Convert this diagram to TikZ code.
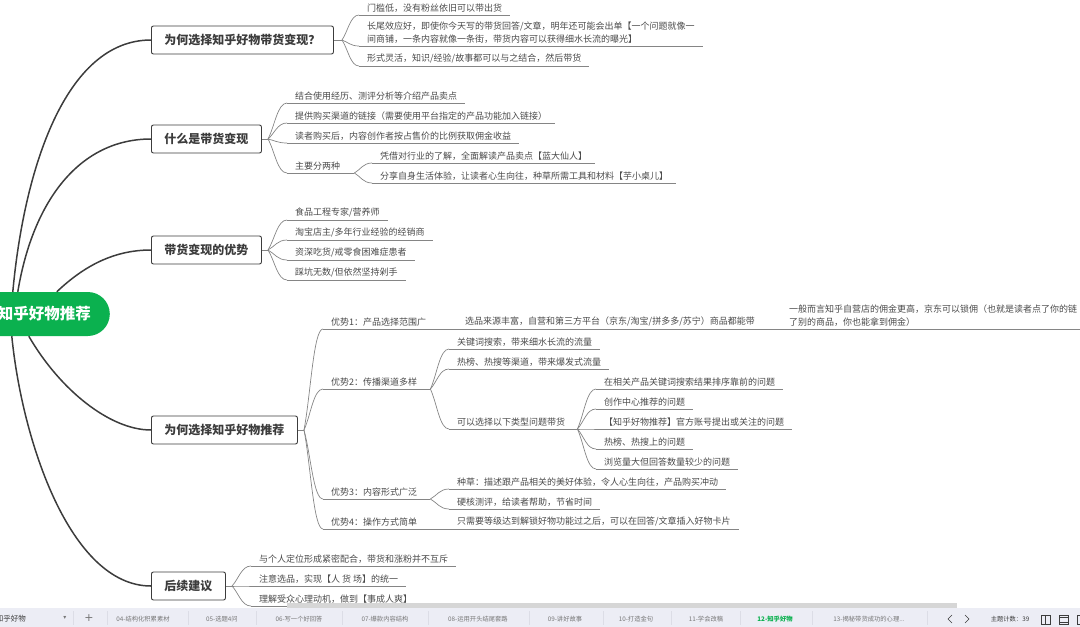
\documentclass[tikz,border=0pt]{standalone}
\usepackage{fontspec}
\setmainfont{Noto Sans CJK SC}
\newfontfamily\symbfont{DejaVu Sans}
\usetikzlibrary{calc}
\definecolor{rootgreen}{HTML}{0BB14F}
\definecolor{inkdark}{HTML}{3C3C3C}
\definecolor{inkleaf}{HTML}{4A4A4A}
\definecolor{linegray}{HTML}{858585}
\definecolor{tabbar}{HTML}{ECEDF5}
\definecolor{tabline}{HTML}{DCDDE6}
\definecolor{tabtext}{HTML}{777777}
\tikzset{
    rootnode/.style={fill=rootgreen, text=white, rounded corners=22pt, anchor=east, text width=172pt, align=right,
        inner xsep=19pt, minimum height=44pt, font=\fontsize{15.5}{18}\selectfont\bfseries},
    topicnode/.style={draw=inkdark, fill=white, line width=0.9pt, rounded corners=2pt, anchor=west, inner xsep=13pt,
        minimum height=28pt, text=inkdark, font=\fontsize{12}{14}\selectfont\bfseries},
    leafnode/.style={anchor=south west, align=left, inner xsep=8pt, inner ysep=2.5pt, text=inkleaf,
        font=\fontsize{9}{12.5}\selectfont,
        append after command={(\tikzlastnode.south west) edge[twigline] (\tikzlastnode.south east)}},
    twigline/.style={draw=linegray, line width=0.7pt},
    bough/.style={draw=inkdark, line width=1.5pt},
    twig/.style={twigline, to path={.. controls ($(\tikztostart)!.35!(\tikztotarget)$) and ($(\tikztotarget)!.5!(\tikztostart|-\tikztotarget)$) .. (\tikztotarget)}},
    tablabel/.style={text=tabtext, inner sep=0pt, font=\fontsize{6.3}{8}\selectfont},
    tabrule/.style={draw=tabline, line width=0.6pt}
}

\begin{document}
\begin{tikzpicture}[x=1pt, y=-1pt]
    \useasboundingbox (0,0) rectangle (1080,627);

    % main topics
    \node[rootnode] (root) at (110,314) {知乎好物推荐};
    \node[topicnode] (t1) at (151,40) {为何选择知乎好物带货变现^^^^ff1f};
    \node[topicnode] (t2) at (151,139) {什么是带货变现};
    \node[topicnode] (t3) at (151,250) {带货变现的优势};
    \node[topicnode] (t4) at (151,430) {为何选择知乎好物推荐};
    \node[topicnode] (t5) at (151,586) {后续建议};

    \draw[bough] ([xshift=8pt]root.north) .. controls (24,170) and (65,40) .. (t1.west);
    \draw[bough] ([xshift=13pt]root.north) .. controls (33,200) and (80,139) .. (t2.west);
    \draw[bough] ([xshift=52pt]root.north) .. controls (85,265) and (115,250) .. (t3.west);
    \draw[bough] ([xshift=24pt]root.south) .. controls (60,390) and (110,430) .. (t4.west);
    \draw[bough] ([xshift=7pt]root.south) .. controls (22,440) and (70,586) .. (t5.west);

    % first topic
    \coordinate (f1) at (342,40);
    \node[leafnode] (a1) at (359,15) {门槛低^^^^ff0c没有粉丝依旧可以带出货};
    \node[leafnode] (a2) at (359,46) {长尾效应好^^^^ff0c即使你今天写的带货回答/文章^^^^ff0c明年还可能会出单【一个问题就像一\\间商铺^^^^ff0c一条内容就像一条街^^^^ff0c带货内容可以获得细水长流的曝光】};
    \node[leafnode] (a3) at (359,66) {形式灵活^^^^ff0c知识/经验/故事都可以与之结合^^^^ff0c然后带货};
    \draw[twigline] (t1.east) -- (f1);
    \foreach \n in {a1,a2,a3}
        \draw[twig] (f1) to (\n.south west);

    % second topic
    \coordinate (f2) at (268,139);
    \node[leafnode] (b1) at (287,103) {结合使用经历、测评分析等介绍产品卖点};
    \node[leafnode] (b2) at (287,123) {提供购买渠道的链接^^^^ff08需要使用平台指定的产品功能加入链接^^^^ff09};
    \node[leafnode] (b3) at (287,143) {读者购买后^^^^ff0c内容创作者按占售价的比例获取佣金收益};
    \node[leafnode, text width=51pt] (b4) at (287,173) {主要分两种};
    \node[leafnode] (b5) at (372,163) {凭借对行业的了解^^^^ff0c全面解读产品卖点【蓝大仙人】};
    \node[leafnode] (b6) at (372,183) {分享自身生活体验^^^^ff0c让读者心生向往^^^^ff0c种草所需工具和材料【芋小桌儿】};
    \draw[twigline] (t2.east) -- (f2);
    \foreach \n in {b1,b2,b3,b4}
        \draw[twig] (f2) to (\n.south west);
    \foreach \n in {b5,b6}
        \draw[twig] (b4.south east) to (\n.south west);

    % third topic
    \coordinate (f3) at (268,250);
    \node[leafnode] (c1) at (287,220) {食品工程专家/营养师};
    \node[leafnode] (c2) at (287,240) {淘宝店主/多年行业经验的经销商};
    \node[leafnode] (c3) at (287,260) {资深吃货/戒零食困难症患者};
    \node[leafnode] (c4) at (287,280) {踩坑无数/但依然坚持剁手};
    \draw[twigline] (t3.east) -- (f3);
    \foreach \n in {c1,c2,c3,c4}
        \draw[twig] (f3) to (\n.south west);

    % fourth topic
    \coordinate (f4) at (304,430);
    \node[leafnode, text width=118pt] (d1) at (323,329) {优势1^^^^ff1a产品选择范围广};
    \node[leafnode] (d2) at (457,329) {选品来源丰富^^^^ff0c自营和第三方平台^^^^ff08京东/淘宝/拼多多/苏宁^^^^ff09商品都能带};
    \node[leafnode, text width=300pt] (d3) at (781,329) {一般而言知乎自营店的佣金更高^^^^ff0c京东可以锁佣^^^^ff08也就是读者点了你的链\\了别的商品^^^^ff0c你也能拿到佣金^^^^ff09};
    \node[leafnode, text width=91pt] (e1) at (323,389) {优势2^^^^ff1a传播渠道多样};
    \node[leafnode] (e2) at (449,349) {关键词搜索^^^^ff0c带来细水长流的流量};
    \node[leafnode] (e3) at (449,369) {热榜、热搜等渠道^^^^ff0c带来爆发式流量};
    \node[leafnode, text width=112pt] (e4) at (449,429) {可以选择以下类型问题带货};
    \node[leafnode] (e5) at (596,389) {在相关产品关键词搜索结果排序靠前的问题};
    \node[leafnode] (e6) at (596,409) {创作中心推荐的问题};
    \node[leafnode] (e7) at (596,429) {【知乎好物推荐】官方账号提出或关注的问题};
    \node[leafnode] (e8) at (596,449) {热榜、热搜上的问题};
    \node[leafnode] (e9) at (596,469) {浏览量大但回答数量较少的问题};
    \node[leafnode, text width=91pt] (g1) at (323,499) {优势3^^^^ff1a内容形式广泛};
    \node[leafnode] (g2) at (449,489) {种草^^^^ff1a描述跟产品相关的美好体验^^^^ff0c令人心生向往^^^^ff0c产品购买冲动};
    \node[leafnode] (g3) at (449,509) {硬核测评^^^^ff0c给读者帮助^^^^ff0c节省时间};
    \node[leafnode, text width=110pt] (h1) at (323,529) {优势4^^^^ff1a操作方式简单};
    \node[leafnode] (h2) at (449,529) {只需要等级达到解锁好物功能过之后^^^^ff0c可以在回答/文章插入好物卡片};
    \draw[twigline] (t4.east) -- (f4);
    \foreach \n in {d1,e1,g1,h1}
        \draw[twig] (f4) to (\n.south west);
    \draw[twigline] (d2.south east) -- (d3.south west);
    \foreach \n in {e2,e3,e4}
        \draw[twig] (e1.south east) to (\n.south west);
    \foreach \n in {e5,e6,e7,e8,e9}
        \draw[twig] (e4.south east) to (\n.south west);
    \foreach \n in {g2,g3}
        \draw[twig] (g1.south east) to (\n.south west);

    % fifth topic
    \coordinate (f5) at (232,586);
    \node[leafnode] (k1) at (251,566) {与个人定位形成紧密配合^^^^ff0c带货和涨粉并不互斥};
    \node[leafnode] (k2) at (251,586) {注意选品^^^^ff0c实现【人 货 场】的统一};
    \node[leafnode] (k3) at (251,606) {理解受众心理动机^^^^ff0c做到【事成人爽】};
    \draw[twigline] (t5.east) -- (f5);
    \foreach \n in {k1,k2,k3}
        \draw[twig] (f5) to (\n.south west);

    % tab bar
    \fill[tabbar] (0,608) rectangle (1080,627);
    \fill[black!16] (287,603) rectangle (957,608);
    \node[tablabel, text=inkdark, font=\fontsize{7.5}{9}\selectfont, anchor=east] (tab0) at (26,619) {知乎好物};
    \node[tablabel, font=\symbfont\fontsize{6}{8}\selectfont] (tabdown) at (65,618) {▾};
    \node[tablabel, font=\symbfont\fontsize{11}{12}\selectfont] (tabplus) at (89,618.5) {+};
    \node[tablabel] (tab4) at (143,619) {04-结构化积累素材};
    \node[tablabel] (tab5) at (222,619) {05-选题4问};
    \node[tablabel] (tab6) at (299,619) {06-写一个好回答};
    \node[tablabel] (tab7) at (385,619) {07-爆款内容结构};
    \node[tablabel] (tab8) at (478,619) {08-运用开头结尾套路};
    \node[tablabel] (tab9) at (565,619) {09-讲好故事};
    \node[tablabel] (tab10) at (636,619) {10-打造金句};
    \node[tablabel] (tab11) at (706,619) {11-学会改稿};
    \node[tablabel, text=rootgreen, font=\fontsize{6.3}{8}\selectfont\bfseries] (tab12) at (775,619) {12-知乎好物};
    \node[tablabel] (tab13) at (869,619) {13-揭秘带货成功的心理...};
    \node[tablabel, text=inkdark] (tabcount) at (1010,619) {主题计数^^^^ff1a39};
    \foreach \x in {73,107,188,256,342,428,529,603,671,740,812,927}
        \draw[tabrule] (\x,611) -- (\x,625);
    \draw[inkdark, line width=0.6pt] (952,615) -- (948,619) -- (952,623);
    \draw[inkdark, line width=0.6pt] (965,615) -- (969,619) -- (965,623);
    \draw[inkdark, line width=0.5pt] (1041,615) rectangle (1050,624) (1045.5,615) -- (1045.5,624);
    \draw[inkdark, line width=0.5pt] (1059,615) rectangle (1068,624) (1059,617) -- (1068,617) (1059,622) -- (1068,622);
    \draw[inkdark, line width=0.5pt] (1077,615) rectangle (1086,624);
\end{tikzpicture}
\end{document}
